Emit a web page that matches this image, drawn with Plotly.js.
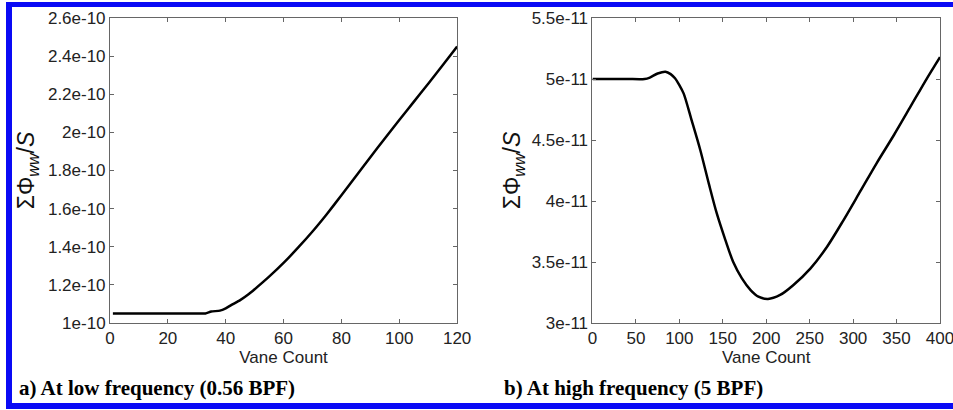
<!DOCTYPE html>
<html>
<head>
<meta charset="utf-8">
<script src="https://cdn.plot.ly/plotly-3.0.1.min.js"></script>
<style>
  html, body { margin: 0; padding: 0; background: #fff; }
  #wrap { position: relative; width: 953px; height: 410px; overflow: hidden; }
  #chart { width: 953px; height: 410px; }
  #frame { position: absolute; left: 6px; top: 2px; width: 1000px; height: 396px;
           border-style: solid; border-color: #0a0af5; border-width: 5px 0 6px 6px;
           pointer-events: none; }
</style>
</head>
<body>
<div id="wrap">
  <div id="chart"></div>
  <div id="frame"></div>
</div>
<script>
// ---- Data: panel a (low frequency, 0.56 BPF) ----
const lowVaneCount = [1, 5, 10, 15, 20, 25, 30, 33, 35, 38, 40, 42, 45, 48, 50, 55, 60, 65, 70, 75, 80, 85, 90, 95, 100, 105, 110, 115, 120];
const lowPhiSum = [1.05e-10, 1.05e-10, 1.05e-10, 1.05e-10, 1.05e-10, 1.05e-10, 1.05e-10, 1.05e-10, 1.06e-10, 1.065e-10, 1.077e-10, 1.095e-10, 1.12e-10, 1.152e-10, 1.177e-10, 1.243e-10, 1.315e-10, 1.395e-10, 1.48e-10, 1.572e-10, 1.67e-10, 1.77e-10, 1.87e-10, 1.968e-10, 2.065e-10, 2.16e-10, 2.255e-10, 2.352e-10, 2.45e-10];

// ---- Data: panel b (high frequency, 5 BPF) ----
const highVaneCount = [0, 20, 40, 60, 66, 75, 84, 90, 95, 100, 105, 114, 124, 134, 143, 153, 162, 172, 182, 191, 202, 216, 231, 251, 270, 289, 308, 327, 347, 366, 385, 400];
const highPhiSum = [5.0e-11, 5.0e-11, 5.0e-11, 5.0e-11, 5.012e-11, 5.045e-11, 5.06e-11, 5.04e-11, 5.006e-11, 4.95e-11, 4.88e-11, 4.665e-11, 4.42e-11, 4.14e-11, 3.9e-11, 3.68e-11, 3.5e-11, 3.366e-11, 3.27e-11, 3.216e-11, 3.197e-11, 3.23e-11, 3.31e-11, 3.448e-11, 3.625e-11, 3.844e-11, 4.076e-11, 4.309e-11, 4.541e-11, 4.773e-11, 5.006e-11, 5.18e-11];

// ---- Tick labels ----
const lowXTicks = [0, 20, 40, 60, 80, 100, 120];
const lowYTicks = [1e-10, 1.2e-10, 1.4e-10, 1.6e-10, 1.8e-10, 2e-10, 2.2e-10, 2.4e-10, 2.6e-10];
const lowYLabels = ['1e-10', '1.2e-10', '1.4e-10', '1.6e-10', '1.8e-10', '2e-10', '2.2e-10', '2.4e-10', '2.6e-10'];
const highXTicks = [0, 50, 100, 150, 200, 250, 300, 350, 400];
const highYTicks = [3e-11, 3.5e-11, 4e-11, 4.5e-11, 5e-11, 5.5e-11];
const highYLabels = ['3e-11', '3.5e-11', '4e-11', '4.5e-11', '5e-11', '5.5e-11'];

const xTitle = 'Vane Count';
const yTitle = 'ΣΦ<sub><i>ww</i></sub>/<i>S</i>';
const captionA = 'a) At low frequency (0.56 BPF)';
const captionB = 'b) At high frequency (5 BPF)';

const lineStyle = { color: '#000', width: 2.5 };
const traces = [
  { x: lowVaneCount, y: lowPhiSum, type: 'scatter', mode: 'lines', line: Object.assign({ shape: 'spline', smoothing: 0.5 }, lineStyle), xaxis: 'x', yaxis: 'y', hoverinfo: 'skip' },
  { x: highVaneCount, y: highPhiSum, type: 'scatter', mode: 'lines', line: Object.assign({ shape: 'spline', smoothing: 0.8 }, lineStyle), xaxis: 'x2', yaxis: 'y2', hoverinfo: 'skip' }
];

const tickFont = { family: 'Liberation Sans, Arial, sans-serif', size: 17, color: '#222' };
const yTitleFont = { family: 'Liberation Sans, Arial, sans-serif', size: 23, color: '#111' };
function axisBase() {
  return {
    showline: true, linecolor: '#666', linewidth: 1, mirror: 'ticks',
    ticks: 'inside', ticklen: 4, tickcolor: '#666', tickwidth: 1,
    showgrid: false, zeroline: false, tickfont: tickFont, fixedrange: true,
    ticklabeloverflow: 'allow'
  };
}
const ax = (extra) => Object.assign(axisBase(), extra);

const plotL = 110, plotR = 939.7, plotW = plotR - plotL;
const layout = {
  width: 953, height: 410,
  margin: { l: plotL, r: 953 - plotR, t: 18, b: 87, pad: 0 },
  paper_bgcolor: '#fff', plot_bgcolor: '#fff',
  showlegend: false,
  font: tickFont,
  xaxis: ax({ domain: [0, 347 / plotW], range: [0, 120], tickvals: lowXTicks, ticktext: lowXTicks.map(String), anchor: 'y',
              title: { text: xTitle, font: tickFont, standoff: 3 } }),
  yaxis: ax({ domain: [0, 1], range: [1e-10, 2.6e-10], tickvals: lowYTicks, ticktext: lowYLabels, anchor: 'x',
              title: { text: yTitle, font: yTitleFont, standoff: 6 } }),
  xaxis2: ax({ domain: [(592.3 - plotL) / plotW, 1], range: [0, 400], tickvals: highXTicks, ticktext: highXTicks.map(String), anchor: 'y2',
               title: { text: xTitle, font: tickFont, standoff: 3 } }),
  yaxis2: ax({ domain: [0, 1], range: [3e-11, 5.5e-11], tickvals: highYTicks, ticktext: highYLabels, anchor: 'x2',
               title: { text: yTitle, font: yTitleFont, standoff: 4 } }),
  annotations: [
    { text: '<b>' + captionA + '</b>', xref: 'paper', yref: 'paper', x: (17 - plotL) / plotW, y: (323 - 388) / 305,
      xanchor: 'left', yanchor: 'middle', showarrow: false, font: { family: 'Liberation Serif, Times New Roman, serif', size: 21, color: '#000' } },
    { text: '<b>' + captionB + '</b>', xref: 'paper', yref: 'paper', x: (502 - plotL) / plotW, y: (323 - 388) / 305,
      xanchor: 'left', yanchor: 'middle', showarrow: false, font: { family: 'Liberation Serif, Times New Roman, serif', size: 21, color: '#000' } }
  ]
};

Plotly.newPlot('chart', traces, layout, { staticPlot: true, displayModeBar: false });
</script>
</body>
</html>
